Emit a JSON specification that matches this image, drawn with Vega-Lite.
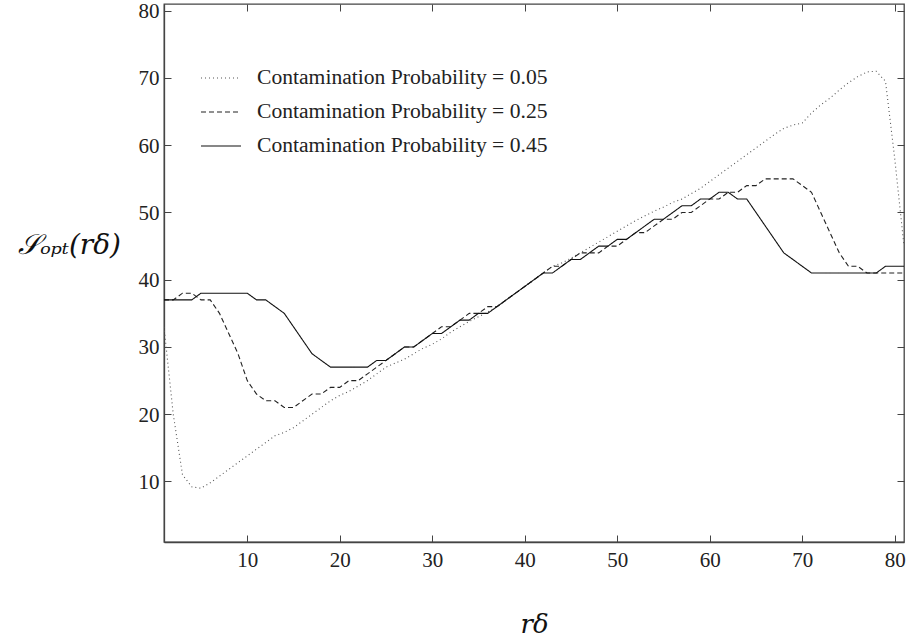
{
  "$schema": "https://vega.github.io/schema/vega-lite/v6.json",
  "autosize": "none",
  "width": 740,
  "height": 538,
  "padding": {"left": 164, "top": 4, "right": 4, "bottom": 101},
  "background": "white",
  "config": {
    "view": {"stroke": "#444", "strokeWidth": 1.3},
    "axis": {
      "grid": false,
      "labelFont": "'Liberation Serif'",
      "labelFontSize": 21,
      "labelColor": "#222",
      "tickColor": "#444",
      "tickSize": -7,
      "domainColor": "#444",
      "domainWidth": 1.3,
      "titleFontWeight": "normal",
      "titleColor": "#111"
    },
    "legend": {
      "labelFont": "'Liberation Serif'"
    }
  },
  "datasets": {
    "curves": [
      {"r": 1, "s": 33, "p": "Contamination Probability = 0.05"},
      {"r": 2, "s": 20, "p": "Contamination Probability = 0.05"},
      {"r": 3, "s": 11, "p": "Contamination Probability = 0.05"},
      {"r": 4, "s": 9.2, "p": "Contamination Probability = 0.05"},
      {"r": 5, "s": 9, "p": "Contamination Probability = 0.05"},
      {"r": 6, "s": 9.8, "p": "Contamination Probability = 0.05"},
      {"r": 7, "s": 10.8, "p": "Contamination Probability = 0.05"},
      {"r": 8, "s": 11.8, "p": "Contamination Probability = 0.05"},
      {"r": 9, "s": 12.8, "p": "Contamination Probability = 0.05"},
      {"r": 10, "s": 13.8, "p": "Contamination Probability = 0.05"},
      {"r": 11, "s": 14.8, "p": "Contamination Probability = 0.05"},
      {"r": 12, "s": 15.8, "p": "Contamination Probability = 0.05"},
      {"r": 13, "s": 16.8, "p": "Contamination Probability = 0.05"},
      {"r": 14, "s": 17.3, "p": "Contamination Probability = 0.05"},
      {"r": 15, "s": 18, "p": "Contamination Probability = 0.05"},
      {"r": 16, "s": 19, "p": "Contamination Probability = 0.05"},
      {"r": 17, "s": 20, "p": "Contamination Probability = 0.05"},
      {"r": 18, "s": 21, "p": "Contamination Probability = 0.05"},
      {"r": 19, "s": 22, "p": "Contamination Probability = 0.05"},
      {"r": 20, "s": 22.8, "p": "Contamination Probability = 0.05"},
      {"r": 21, "s": 23.4, "p": "Contamination Probability = 0.05"},
      {"r": 22, "s": 24.2, "p": "Contamination Probability = 0.05"},
      {"r": 23, "s": 25, "p": "Contamination Probability = 0.05"},
      {"r": 24, "s": 26, "p": "Contamination Probability = 0.05"},
      {"r": 25, "s": 27, "p": "Contamination Probability = 0.05"},
      {"r": 26, "s": 27.6, "p": "Contamination Probability = 0.05"},
      {"r": 27, "s": 28.2, "p": "Contamination Probability = 0.05"},
      {"r": 28, "s": 29, "p": "Contamination Probability = 0.05"},
      {"r": 29, "s": 29.8, "p": "Contamination Probability = 0.05"},
      {"r": 30, "s": 30.4, "p": "Contamination Probability = 0.05"},
      {"r": 31, "s": 31.2, "p": "Contamination Probability = 0.05"},
      {"r": 32, "s": 32.2, "p": "Contamination Probability = 0.05"},
      {"r": 33, "s": 33, "p": "Contamination Probability = 0.05"},
      {"r": 34, "s": 33.8, "p": "Contamination Probability = 0.05"},
      {"r": 35, "s": 34.5, "p": "Contamination Probability = 0.05"},
      {"r": 36, "s": 35.2, "p": "Contamination Probability = 0.05"},
      {"r": 37, "s": 36, "p": "Contamination Probability = 0.05"},
      {"r": 38, "s": 37, "p": "Contamination Probability = 0.05"},
      {"r": 39, "s": 38, "p": "Contamination Probability = 0.05"},
      {"r": 40, "s": 39, "p": "Contamination Probability = 0.05"},
      {"r": 41, "s": 40, "p": "Contamination Probability = 0.05"},
      {"r": 42, "s": 41, "p": "Contamination Probability = 0.05"},
      {"r": 43, "s": 42, "p": "Contamination Probability = 0.05"},
      {"r": 44, "s": 42.5, "p": "Contamination Probability = 0.05"},
      {"r": 45, "s": 43.2, "p": "Contamination Probability = 0.05"},
      {"r": 46, "s": 44, "p": "Contamination Probability = 0.05"},
      {"r": 47, "s": 44.8, "p": "Contamination Probability = 0.05"},
      {"r": 48, "s": 45.6, "p": "Contamination Probability = 0.05"},
      {"r": 49, "s": 46.4, "p": "Contamination Probability = 0.05"},
      {"r": 50, "s": 47.2, "p": "Contamination Probability = 0.05"},
      {"r": 51, "s": 48, "p": "Contamination Probability = 0.05"},
      {"r": 52, "s": 48.8, "p": "Contamination Probability = 0.05"},
      {"r": 53, "s": 49.5, "p": "Contamination Probability = 0.05"},
      {"r": 54, "s": 50.2, "p": "Contamination Probability = 0.05"},
      {"r": 55, "s": 50.8, "p": "Contamination Probability = 0.05"},
      {"r": 56, "s": 51.5, "p": "Contamination Probability = 0.05"},
      {"r": 57, "s": 52, "p": "Contamination Probability = 0.05"},
      {"r": 58, "s": 52.8, "p": "Contamination Probability = 0.05"},
      {"r": 59, "s": 53.6, "p": "Contamination Probability = 0.05"},
      {"r": 60, "s": 54.6, "p": "Contamination Probability = 0.05"},
      {"r": 61, "s": 55.6, "p": "Contamination Probability = 0.05"},
      {"r": 62, "s": 56.6, "p": "Contamination Probability = 0.05"},
      {"r": 63, "s": 57.6, "p": "Contamination Probability = 0.05"},
      {"r": 64, "s": 58.6, "p": "Contamination Probability = 0.05"},
      {"r": 65, "s": 59.6, "p": "Contamination Probability = 0.05"},
      {"r": 66, "s": 60.6, "p": "Contamination Probability = 0.05"},
      {"r": 67, "s": 61.6, "p": "Contamination Probability = 0.05"},
      {"r": 68, "s": 62.5, "p": "Contamination Probability = 0.05"},
      {"r": 69, "s": 63, "p": "Contamination Probability = 0.05"},
      {"r": 70, "s": 63.3, "p": "Contamination Probability = 0.05"},
      {"r": 71, "s": 64.8, "p": "Contamination Probability = 0.05"},
      {"r": 72, "s": 66, "p": "Contamination Probability = 0.05"},
      {"r": 73, "s": 67, "p": "Contamination Probability = 0.05"},
      {"r": 74, "s": 68.2, "p": "Contamination Probability = 0.05"},
      {"r": 75, "s": 69.3, "p": "Contamination Probability = 0.05"},
      {"r": 76, "s": 70.2, "p": "Contamination Probability = 0.05"},
      {"r": 77, "s": 70.9, "p": "Contamination Probability = 0.05"},
      {"r": 78, "s": 71, "p": "Contamination Probability = 0.05"},
      {"r": 79, "s": 69.5, "p": "Contamination Probability = 0.05"},
      {"r": 80, "s": 58, "p": "Contamination Probability = 0.05"},
      {"r": 81, "s": 45, "p": "Contamination Probability = 0.05"},

      {"r": 1, "s": 37, "p": "Contamination Probability = 0.25"},
      {"r": 2, "s": 37, "p": "Contamination Probability = 0.25"},
      {"r": 3, "s": 38, "p": "Contamination Probability = 0.25"},
      {"r": 4, "s": 38, "p": "Contamination Probability = 0.25"},
      {"r": 5, "s": 37, "p": "Contamination Probability = 0.25"},
      {"r": 6, "s": 37, "p": "Contamination Probability = 0.25"},
      {"r": 7, "s": 35, "p": "Contamination Probability = 0.25"},
      {"r": 8, "s": 32, "p": "Contamination Probability = 0.25"},
      {"r": 9, "s": 29, "p": "Contamination Probability = 0.25"},
      {"r": 10, "s": 25, "p": "Contamination Probability = 0.25"},
      {"r": 11, "s": 23, "p": "Contamination Probability = 0.25"},
      {"r": 12, "s": 22, "p": "Contamination Probability = 0.25"},
      {"r": 13, "s": 22, "p": "Contamination Probability = 0.25"},
      {"r": 14, "s": 21, "p": "Contamination Probability = 0.25"},
      {"r": 15, "s": 21, "p": "Contamination Probability = 0.25"},
      {"r": 16, "s": 22, "p": "Contamination Probability = 0.25"},
      {"r": 17, "s": 23, "p": "Contamination Probability = 0.25"},
      {"r": 18, "s": 23, "p": "Contamination Probability = 0.25"},
      {"r": 19, "s": 24, "p": "Contamination Probability = 0.25"},
      {"r": 20, "s": 24, "p": "Contamination Probability = 0.25"},
      {"r": 21, "s": 25, "p": "Contamination Probability = 0.25"},
      {"r": 22, "s": 25, "p": "Contamination Probability = 0.25"},
      {"r": 23, "s": 26, "p": "Contamination Probability = 0.25"},
      {"r": 24, "s": 27, "p": "Contamination Probability = 0.25"},
      {"r": 25, "s": 28, "p": "Contamination Probability = 0.25"},
      {"r": 26, "s": 29, "p": "Contamination Probability = 0.25"},
      {"r": 27, "s": 30, "p": "Contamination Probability = 0.25"},
      {"r": 28, "s": 30, "p": "Contamination Probability = 0.25"},
      {"r": 29, "s": 31, "p": "Contamination Probability = 0.25"},
      {"r": 30, "s": 32, "p": "Contamination Probability = 0.25"},
      {"r": 31, "s": 33, "p": "Contamination Probability = 0.25"},
      {"r": 32, "s": 33, "p": "Contamination Probability = 0.25"},
      {"r": 33, "s": 34, "p": "Contamination Probability = 0.25"},
      {"r": 34, "s": 35, "p": "Contamination Probability = 0.25"},
      {"r": 35, "s": 35, "p": "Contamination Probability = 0.25"},
      {"r": 36, "s": 36, "p": "Contamination Probability = 0.25"},
      {"r": 37, "s": 36, "p": "Contamination Probability = 0.25"},
      {"r": 38, "s": 37, "p": "Contamination Probability = 0.25"},
      {"r": 39, "s": 38, "p": "Contamination Probability = 0.25"},
      {"r": 40, "s": 39, "p": "Contamination Probability = 0.25"},
      {"r": 41, "s": 40, "p": "Contamination Probability = 0.25"},
      {"r": 42, "s": 41, "p": "Contamination Probability = 0.25"},
      {"r": 43, "s": 42, "p": "Contamination Probability = 0.25"},
      {"r": 44, "s": 42, "p": "Contamination Probability = 0.25"},
      {"r": 45, "s": 43, "p": "Contamination Probability = 0.25"},
      {"r": 46, "s": 44, "p": "Contamination Probability = 0.25"},
      {"r": 47, "s": 44, "p": "Contamination Probability = 0.25"},
      {"r": 48, "s": 44, "p": "Contamination Probability = 0.25"},
      {"r": 49, "s": 45, "p": "Contamination Probability = 0.25"},
      {"r": 50, "s": 45, "p": "Contamination Probability = 0.25"},
      {"r": 51, "s": 46, "p": "Contamination Probability = 0.25"},
      {"r": 52, "s": 47, "p": "Contamination Probability = 0.25"},
      {"r": 53, "s": 47, "p": "Contamination Probability = 0.25"},
      {"r": 54, "s": 48, "p": "Contamination Probability = 0.25"},
      {"r": 55, "s": 49, "p": "Contamination Probability = 0.25"},
      {"r": 56, "s": 49, "p": "Contamination Probability = 0.25"},
      {"r": 57, "s": 50, "p": "Contamination Probability = 0.25"},
      {"r": 58, "s": 50, "p": "Contamination Probability = 0.25"},
      {"r": 59, "s": 51, "p": "Contamination Probability = 0.25"},
      {"r": 60, "s": 52, "p": "Contamination Probability = 0.25"},
      {"r": 61, "s": 52, "p": "Contamination Probability = 0.25"},
      {"r": 62, "s": 53, "p": "Contamination Probability = 0.25"},
      {"r": 63, "s": 53, "p": "Contamination Probability = 0.25"},
      {"r": 64, "s": 54, "p": "Contamination Probability = 0.25"},
      {"r": 65, "s": 54, "p": "Contamination Probability = 0.25"},
      {"r": 66, "s": 55, "p": "Contamination Probability = 0.25"},
      {"r": 67, "s": 55, "p": "Contamination Probability = 0.25"},
      {"r": 68, "s": 55, "p": "Contamination Probability = 0.25"},
      {"r": 69, "s": 55, "p": "Contamination Probability = 0.25"},
      {"r": 70, "s": 54, "p": "Contamination Probability = 0.25"},
      {"r": 71, "s": 53, "p": "Contamination Probability = 0.25"},
      {"r": 72, "s": 50, "p": "Contamination Probability = 0.25"},
      {"r": 73, "s": 47, "p": "Contamination Probability = 0.25"},
      {"r": 74, "s": 44, "p": "Contamination Probability = 0.25"},
      {"r": 75, "s": 42, "p": "Contamination Probability = 0.25"},
      {"r": 76, "s": 42, "p": "Contamination Probability = 0.25"},
      {"r": 77, "s": 41, "p": "Contamination Probability = 0.25"},
      {"r": 78, "s": 41, "p": "Contamination Probability = 0.25"},
      {"r": 79, "s": 41, "p": "Contamination Probability = 0.25"},
      {"r": 80, "s": 41, "p": "Contamination Probability = 0.25"},
      {"r": 81, "s": 41, "p": "Contamination Probability = 0.25"},

      {"r": 1, "s": 37, "p": "Contamination Probability = 0.45"},
      {"r": 2, "s": 37, "p": "Contamination Probability = 0.45"},
      {"r": 3, "s": 37, "p": "Contamination Probability = 0.45"},
      {"r": 4, "s": 37, "p": "Contamination Probability = 0.45"},
      {"r": 5, "s": 38, "p": "Contamination Probability = 0.45"},
      {"r": 6, "s": 38, "p": "Contamination Probability = 0.45"},
      {"r": 7, "s": 38, "p": "Contamination Probability = 0.45"},
      {"r": 8, "s": 38, "p": "Contamination Probability = 0.45"},
      {"r": 9, "s": 38, "p": "Contamination Probability = 0.45"},
      {"r": 10, "s": 38, "p": "Contamination Probability = 0.45"},
      {"r": 11, "s": 37, "p": "Contamination Probability = 0.45"},
      {"r": 12, "s": 37, "p": "Contamination Probability = 0.45"},
      {"r": 13, "s": 36, "p": "Contamination Probability = 0.45"},
      {"r": 14, "s": 35, "p": "Contamination Probability = 0.45"},
      {"r": 15, "s": 33, "p": "Contamination Probability = 0.45"},
      {"r": 16, "s": 31, "p": "Contamination Probability = 0.45"},
      {"r": 17, "s": 29, "p": "Contamination Probability = 0.45"},
      {"r": 18, "s": 28, "p": "Contamination Probability = 0.45"},
      {"r": 19, "s": 27, "p": "Contamination Probability = 0.45"},
      {"r": 20, "s": 27, "p": "Contamination Probability = 0.45"},
      {"r": 21, "s": 27, "p": "Contamination Probability = 0.45"},
      {"r": 22, "s": 27, "p": "Contamination Probability = 0.45"},
      {"r": 23, "s": 27, "p": "Contamination Probability = 0.45"},
      {"r": 24, "s": 28, "p": "Contamination Probability = 0.45"},
      {"r": 25, "s": 28, "p": "Contamination Probability = 0.45"},
      {"r": 26, "s": 29, "p": "Contamination Probability = 0.45"},
      {"r": 27, "s": 30, "p": "Contamination Probability = 0.45"},
      {"r": 28, "s": 30, "p": "Contamination Probability = 0.45"},
      {"r": 29, "s": 31, "p": "Contamination Probability = 0.45"},
      {"r": 30, "s": 32, "p": "Contamination Probability = 0.45"},
      {"r": 31, "s": 32, "p": "Contamination Probability = 0.45"},
      {"r": 32, "s": 33, "p": "Contamination Probability = 0.45"},
      {"r": 33, "s": 34, "p": "Contamination Probability = 0.45"},
      {"r": 34, "s": 34, "p": "Contamination Probability = 0.45"},
      {"r": 35, "s": 35, "p": "Contamination Probability = 0.45"},
      {"r": 36, "s": 35, "p": "Contamination Probability = 0.45"},
      {"r": 37, "s": 36, "p": "Contamination Probability = 0.45"},
      {"r": 38, "s": 37, "p": "Contamination Probability = 0.45"},
      {"r": 39, "s": 38, "p": "Contamination Probability = 0.45"},
      {"r": 40, "s": 39, "p": "Contamination Probability = 0.45"},
      {"r": 41, "s": 40, "p": "Contamination Probability = 0.45"},
      {"r": 42, "s": 41, "p": "Contamination Probability = 0.45"},
      {"r": 43, "s": 41, "p": "Contamination Probability = 0.45"},
      {"r": 44, "s": 42, "p": "Contamination Probability = 0.45"},
      {"r": 45, "s": 43, "p": "Contamination Probability = 0.45"},
      {"r": 46, "s": 43, "p": "Contamination Probability = 0.45"},
      {"r": 47, "s": 44, "p": "Contamination Probability = 0.45"},
      {"r": 48, "s": 45, "p": "Contamination Probability = 0.45"},
      {"r": 49, "s": 45, "p": "Contamination Probability = 0.45"},
      {"r": 50, "s": 46, "p": "Contamination Probability = 0.45"},
      {"r": 51, "s": 46, "p": "Contamination Probability = 0.45"},
      {"r": 52, "s": 47, "p": "Contamination Probability = 0.45"},
      {"r": 53, "s": 48, "p": "Contamination Probability = 0.45"},
      {"r": 54, "s": 49, "p": "Contamination Probability = 0.45"},
      {"r": 55, "s": 49, "p": "Contamination Probability = 0.45"},
      {"r": 56, "s": 50, "p": "Contamination Probability = 0.45"},
      {"r": 57, "s": 51, "p": "Contamination Probability = 0.45"},
      {"r": 58, "s": 51, "p": "Contamination Probability = 0.45"},
      {"r": 59, "s": 52, "p": "Contamination Probability = 0.45"},
      {"r": 60, "s": 52, "p": "Contamination Probability = 0.45"},
      {"r": 61, "s": 53, "p": "Contamination Probability = 0.45"},
      {"r": 62, "s": 53, "p": "Contamination Probability = 0.45"},
      {"r": 63, "s": 52, "p": "Contamination Probability = 0.45"},
      {"r": 64, "s": 52, "p": "Contamination Probability = 0.45"},
      {"r": 65, "s": 50, "p": "Contamination Probability = 0.45"},
      {"r": 66, "s": 48, "p": "Contamination Probability = 0.45"},
      {"r": 67, "s": 46, "p": "Contamination Probability = 0.45"},
      {"r": 68, "s": 44, "p": "Contamination Probability = 0.45"},
      {"r": 69, "s": 43, "p": "Contamination Probability = 0.45"},
      {"r": 70, "s": 42, "p": "Contamination Probability = 0.45"},
      {"r": 71, "s": 41, "p": "Contamination Probability = 0.45"},
      {"r": 72, "s": 41, "p": "Contamination Probability = 0.45"},
      {"r": 73, "s": 41, "p": "Contamination Probability = 0.45"},
      {"r": 74, "s": 41, "p": "Contamination Probability = 0.45"},
      {"r": 75, "s": 41, "p": "Contamination Probability = 0.45"},
      {"r": 76, "s": 41, "p": "Contamination Probability = 0.45"},
      {"r": 77, "s": 41, "p": "Contamination Probability = 0.45"},
      {"r": 78, "s": 41, "p": "Contamination Probability = 0.45"},
      {"r": 79, "s": 42, "p": "Contamination Probability = 0.45"},
      {"r": 80, "s": 42, "p": "Contamination Probability = 0.45"},
      {"r": 81, "s": 42, "p": "Contamination Probability = 0.45"}
    ]
  },
  "data": {"name": "curves"},
  "resolve": {"axis": {"x": "independent", "y": "independent"}},
  "layer": [
    {
      "mark": {"type": "line", "strokeWidth": 1.1, "clip": true},
      "encoding": {
        "x": {
          "field": "r", "type": "quantitative",
          "scale": {"domain": [1, 81], "nice": false, "zero": false},
          "axis": {
            "orient": "bottom",
            "values": [10, 20, 30, 40, 50, 60, 70, 80],
            "labelPadding": 14,
            "title": "rδ",
            "titleFont": "'DejaVu Serif'",
            "titleFontSize": 26,
            "titleFontStyle": "italic",
            "titleY": 82,
            "titleBaseline": "middle"
          }
        },
        "y": {
          "field": "s", "type": "quantitative",
          "scale": {"domain": [1, 81], "nice": false, "zero": false},
          "axis": {
            "orient": "left",
            "values": [10, 20, 30, 40, 50, 60, 70, 80],
            "labelPadding": 12,
            "labelOffset": 1,
            "title": "𝒮ₒₚₜ(rδ)",
            "titleFont": "'DejaVu Serif'",
            "titleFontSize": 28,
            "titleFontStyle": "italic",
            "titleAngle": 0,
            "titleAlign": "center",
            "titleBaseline": "middle",
            "titleX": -95,
            "titleY": 241
          }
        },
        "strokeDash": {
          "field": "p", "type": "nominal",
          "scale": {
            "domain": ["Contamination Probability = 0.05", "Contamination Probability = 0.25", "Contamination Probability = 0.45"],
            "range": [[1, 3], [5, 3], [1, 0]]
          },
          "legend": {
            "title": null,
            "orient": "none",
            "legendX": 46,
            "legendY": 63,
            "padding": 0,
            "symbolType": "M-2,0H2",
            "symbolSize": 400,
            "symbolStrokeWidth": 1.1,
            "labelOffset": 25,
            "labelFontSize": 21.6,
            "labelColor": "#222",
            "labelLimit": 0,
            "rowPadding": 12
          }
        },
        "stroke": {
          "field": "p", "type": "nominal",
          "scale": {
            "domain": ["Contamination Probability = 0.05", "Contamination Probability = 0.25", "Contamination Probability = 0.45"],
            "range": ["#555", "#222", "#111"]
          },
          "legend": {
            "title": null,
            "orient": "none",
            "legendX": 46,
            "legendY": 63,
            "padding": 0,
            "symbolType": "M-2,0H2",
            "symbolSize": 400,
            "symbolStrokeWidth": 1.1,
            "labelOffset": 25,
            "labelFontSize": 21.6,
            "labelColor": "#222",
            "labelLimit": 0,
            "rowPadding": 12
          }
        }
      }
    },
    {
      "mark": {"type": "point", "opacity": 0},
      "encoding": {
        "x": {
          "field": "r", "type": "quantitative",
          "axis": {"orient": "top", "values": [10, 20, 30, 40, 50, 60, 70, 80], "labels": false, "domain": false, "title": null}
        },
        "y": {
          "field": "s", "type": "quantitative",
          "axis": {"orient": "right", "values": [10, 20, 30, 40, 50, 60, 70, 80], "labels": false, "domain": false, "title": null}
        }
      }
    }
  ]
}
